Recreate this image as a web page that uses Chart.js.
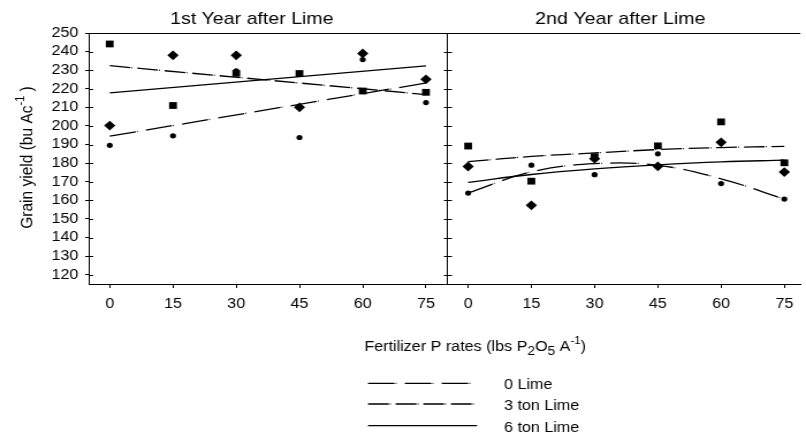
<!DOCTYPE html>
<html>
<head>
<meta charset="utf-8">
<script src="https://cdn.jsdelivr.net/npm/chart.js"></script>
<style>
html,body{margin:0;padding:0;background:#fff;overflow:hidden;}
#wrap{position:absolute;left:0;top:0;width:700px;height:437px;transform:scaleX(1.15143);transform-origin:0 0;}
canvas{display:block;}
</style>
</head>
<body>
<div id="wrap"><canvas id="c" width="700" height="437" style="width:700px;height:437px"></canvas></div>
<script>
// ---------- data ----------
const rates = [0, 15, 30, 45, 60, 75];
const yTickValues = [120, 130, 140, 150, 160, 170, 180, 190, 200, 210, 220, 230, 240, 250];
const panelTitles = ['1st Year after Lime', '2nd Year after Lime'];
const limeLabels = ['0 Lime', '3 ton Lime', '6 ton Lime'];

// 1st year after lime: observed yields
const year1Lime0 = [189.6, 194.7, 229.7, 193.8, 235.7, 212.6];
const year1Lime3 = [244.1, 211.0, 228.3, 228.2, 218.8, 218.1];
const year1Lime6 = [200.2, 238.0, 238.0, 210.0, 239.0, 225.1];
// 1st year: fitted lines (read at the end rates)
const fitRates1 = [0, 75];
const year1Fit0 = [194.5, 223.1];
const year1Fit3 = [232.4, 216.9];
const year1Fit6 = [217.8, 232.3];

// 2nd year after lime: observed yields
const year2Lime0 = [163.9, 178.9, 173.8, 185.0, 169.0, 160.7];
const year2Lime3 = [189.2, 170.3, 183.5, 189.3, 202.2, 180.2];
const year2Lime6 = [178.2, 157.3, 182.4, 178.3, 191.2, 175.2];
// 2nd year: fitted curves (read at each rate)
const year2Fit0 = [164.0, 175.3, 179.7, 178.8, 171.6, 160.6];
const year2Fit3 = [180.8, 183.6, 185.5, 187.3, 188.4, 189.0];
const year2Fit6 = [169.7, 173.9, 176.9, 179.1, 180.7, 181.6];

// ---------- layout / style ----------
const PANEL2_OFFSET = 85;     // second panel shares the x scale, shifted
const DIVIDER = 80;
const FONT = "'Liberation Sans', Arial, sans-serif";
const dashStyles = [[23, 1, 0.8, 7.2], [18, 1, 0.8, 4.2], []];

function pts(xs, ys, off) { return xs.map((r, i) => ({ x: r + off, y: ys[i] })); }

const obs = [
  [year1Lime0, year1Lime3, year1Lime6],
  [year2Lime0, year2Lime3, year2Lime6]
];
const fits = [
  [year1Fit0, year1Fit3, year1Fit6],
  [year2Fit0, year2Fit3, year2Fit6]
];
const markerStyles = [
  { pointStyle: 'circle', pointRadius: 2.6 },
  { pointStyle: 'rect', pointRadius: 4.8 },
  { pointStyle: 'rectRot', pointRadius: 4.9 }
];

const datasets = [];
[0, 1].forEach(p => {
  const off = p === 0 ? 0 : PANEL2_OFFSET;
  [0, 1, 2].forEach(s => {
    datasets.push({
      label: limeLabels[s] + ' obs ' + (p + 1),
      data: pts(rates, obs[p][s], off),
      showLine: false,
      pointStyle: markerStyles[s].pointStyle,
      pointRadius: markerStyles[s].pointRadius,
      pointBackgroundColor: '#000',
      pointBorderColor: '#000',
      pointBorderWidth: 0
    });
  });
});
[0, 1].forEach(p => {
  const off = p === 0 ? 0 : PANEL2_OFFSET;
  const xs = p === 0 ? fitRates1 : rates;
  [0, 1, 2].forEach(s => {
    datasets.push({
      label: limeLabels[s] + ' fit ' + (p + 1),
      legendIndex: s,
      data: pts(xs, fits[p][s], off),
      showLine: true,
      borderColor: '#000',
      borderWidth: 1.3,
      borderDash: dashStyles[s],
      pointRadius: 0,
      tension: p === 0 ? 0 : 0.4,
      fill: false
    });
  });
});

function drawRuns(ctx, runs, cx, baseY) {
  let total = 0;
  runs.forEach(r => { ctx.font = r.size + 'px ' + FONT; r.w = ctx.measureText(r.t).width; total += r.w; });
  let x = cx - total / 2;
  ctx.textAlign = 'left';
  ctx.textBaseline = 'alphabetic';
  runs.forEach(r => { ctx.font = r.size + 'px ' + FONT; ctx.fillText(r.t, x, baseY + (r.dy || 0)); x += r.w; });
}

const framePlugin = {
  id: 'frame',
  afterDraw(chart) {
    const { ctx, chartArea: a, scales: { x, y } } = chart;
    ctx.save();
    ctx.strokeStyle = '#000';
    ctx.fillStyle = '#000';
    ctx.lineWidth = 1;
    ctx.setLineDash([]);
    const L = (x1, y1, x2, y2) => { ctx.beginPath(); ctx.moveTo(x1, y1); ctx.lineTo(x2, y2); ctx.stroke(); };
    const top = Math.round(a.top) + 0.5;
    L(a.left, top, a.right, top);
    const xd = Math.round(x.getPixelForValue(DIVIDER)) + 0.5;
    L(xd, a.top, xd, a.bottom);
    yTickValues.forEach(v => {
      const py = Math.round(y.getPixelForValue(v)) + 0.5;
      L(a.left, py, a.left + 4, py);
      L(xd - 3, py, xd + 4, py);
    });

    // panel titles
    ctx.font = '17px ' + FONT;
    ctx.textAlign = 'center';
    ctx.textBaseline = 'alphabetic';
    ctx.fillText(panelTitles[0], x.getPixelForValue(33.7), 24);
    ctx.fillText(panelTitles[1], x.getPixelForValue(PANEL2_OFFSET + 36.1), 24);

    // x axis title
    drawRuns(ctx, [
      { t: 'Fertilizer P rates (lbs P', size: 14 },
      { t: '2', size: 12, dy: 4 },
      { t: 'O', size: 14 },
      { t: '5', size: 12, dy: 4 },
      { t: ' A', size: 14 },
      { t: '-1', size: 10, dy: -7 },
      { t: ')', size: 14 }
    ], 412.7, 350.5);

    // y axis title (rotated)
    ctx.save();
    ctx.translate(27.5, 157.5);
    ctx.rotate(-Math.PI / 2);
    drawRuns(ctx, [
      { t: 'Grain yield (bu Ac', size: 15.5 },
      { t: '-1', size: 11, dy: -7 },
      { t: ' )', size: 15.5 }
    ], 0, 0);
    ctx.restore();

    // legend
    const lineY = [383.3, 404, 425.7];
    const textY = [389.3, 410, 431.7];
    const fitSets = chart.data.datasets.filter(d => d.showLine).slice(0, 3);
    fitSets.forEach((d, i) => {
      ctx.lineWidth = 1.3;
      ctx.setLineDash(d.borderDash);
      L(319.6, lineY[i], 414.3, lineY[i]);
      ctx.setLineDash([]);
      ctx.font = '14px ' + FONT;
      ctx.textAlign = 'left';
      ctx.fillText(limeLabels[d.legendIndex], 437.7, textY[i]);
    });
    ctx.restore();
  }
};

new Chart(document.getElementById('c'), {
  type: 'scatter',
  data: { datasets },
  options: {
    responsive: false,
    animation: false,
    devicePixelRatio: 1,
    layout: { padding: { top: 33, right: 0, bottom: 0, left: 0 } },
    plugins: { legend: { display: false }, tooltip: { enabled: false }, title: { display: false } },
    scales: {
      x: {
        type: 'linear',
        min: -5,
        max: 163.8,
        afterBuildTicks: s => {
          s.ticks = rates.map(r => ({ value: r })).concat(rates.map(r => ({ value: r + PANEL2_OFFSET })));
        },
        afterFit: s => { s.height = 153; },
        ticks: {
          font: { family: FONT, size: 14 },
          color: '#000',
          padding: 8,
          maxRotation: 0,
          autoSkip: false,
          callback: v => String(v >= DIVIDER ? v - PANEL2_OFFSET : v)
        },
        grid: { display: true, drawOnChartArea: false, drawTicks: true, tickLength: 4, color: '#000', lineWidth: 1 },
        border: { display: true, color: '#000', width: 1 }
      },
      y: {
        type: 'linear',
        min: 115,
        max: 250,
        afterBuildTicks: s => { s.ticks = yTickValues.map(v => ({ value: v })); },
        afterFit: s => { s.width = 77; },
        ticks: {
          font: { family: FONT, size: 14 },
          color: '#000',
          padding: 6,
          autoSkip: false
        },
        grid: { display: true, drawOnChartArea: false, drawTicks: true, tickLength: 3, color: '#000', lineWidth: 1 },
        border: { display: true, color: '#000', width: 1 }
      }
    }
  },
  plugins: [framePlugin]
});
</script>
</body>
</html>
